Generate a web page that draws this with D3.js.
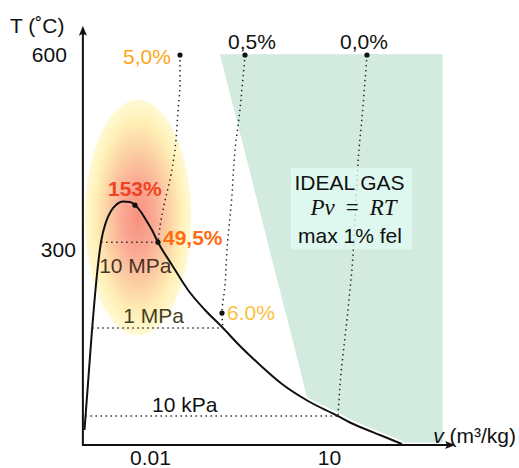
<!DOCTYPE html>
<html>
<head>
<meta charset="utf-8">
<script src="https://cdn.jsdelivr.net/npm/d3@7"></script>
<style>
  body { margin: 0; background: #fff; }
  #chart svg { display: block; font-family: "Liberation Sans", Arial, sans-serif; font-size: 21px; }
</style>
</head>
<body>
<div id="chart"></div>
<script>
// T-v diagram of water, error of the ideal gas law

// saturation dome (v in m3/kg, T in C), liquid side up, then vapour side down
const domeV = [0.000798, 0.000846, 0.00095, 0.001067, 0.001197, 0.001344, 0.00151, 0.001831, 0.00222, 0.002692,
  0.003528, 0.004622, 0.005605, 0.007066, 0.008568, 0.0108, 0.0136, 0.02337, 0.04333, 0.08352,
  0.1673, 0.3224, 0.6974, 1.63, 4.445, 14.15, 22.48, 40.11, 71.5, 167.2];
const domeT = [23.1, 53.8, 115.4, 176.9, 230.8, 276.9, 312.3, 343.1, 360, 369.2,
  374.6, 373.8, 369.2, 358.5, 346.2, 330.8, 312, 276.9, 238.5, 207.7,
  180, 152.3, 123.1, 93.8, 67.7, 44.6, 34.6, 24.6, 15.4, 1.5];

// isobars across the dome
const isobarLabels = ['10 MPa', '1 MPa', '10 kPa'];
const isobarT = [312, 180, 44.6];
const isobarVf = [0.00152, 0.00108, 0.00083];
const isobarVg = [0.0136, 0.167, 14.15];

// lines of equal error
const err5V = [0.0318, 0.0318, 0.0295, 0.0262, 0.0216, 0.0185, 0.0153, 0.0136];
const err5T = [600, 557, 515, 454, 408, 382, 346, 312];
const err05V = [0.391, 0.31, 0.266, 0.237, 0.195, 0.181, 0.161, 0.167];
const err05T = [600, 503, 454, 385, 300, 246, 203, 180];
const err0V = [43.3, 35.7, 31.8, 27.3, 24.3, 20.8, 15.3, 14.15];
const err0T = [600, 503, 454, 346, 272, 208, 92, 44.6];

// points with their error
const pointLabels = ['5,0%', '0,5%', '0,0%', '153%', '49,5%', '6.0%'];
const pointV = [0.0318, 0.391, 43.3, 0.0056, 0.0136, 0.161];
const pointT = [600, 600, 600, 369, 312, 203];

// ideal gas region and its note
const idealV = [0.149, 800, 800, 150, 71.5, 40.1, 22.48, 14.15, 4.445];
const idealT = [601, 601, 4, 4, 15.4, 24.6, 34.6, 44.6, 67.7];
const boxV = [2.3, 246];
const boxT = [301, 426];

// hot spot around the critical point
const spotV = 0.0063, spotT = 350, spotDecades = 0.89, spotDT = 181;

const tickT = [300, 600];
const tickV = [0.01, 10];
const vAxis = 0.00075, vArrow = 1300, tArrow = 645;

const width = 519, height = 468;

const x = d3.scaleLog().domain([0.01, 10]).range([150, 329]);
const y = d3.scaleLinear().domain([0, 600]).range([445, 55]);

const zip = (vs, ts) => vs.map((v, i) => [v, ts[i]]);
const line = d3.line().x(d => x(d[0])).y(d => y(d[1]));
const alongV = d3.line().x(d => x(d[0])).y(d => y(d[1])).curve(d3.curveMonotoneX);
const alongT = d3.line().x(d => x(d[0])).y(d => y(d[1])).curve(d3.curveMonotoneY);

const svg = d3.select('#chart').append('svg')
  .attr('width', width)
  .attr('height', height);

// gradient for the hot spot
const defs = svg.append('defs');
const grad = defs.append('radialGradient').attr('id', 'spot');
[[0, '#f8907f', 1], [0.3, '#faa994', 1], [0.58, '#fcd0a4', 1], [0.82, '#fff0b6', 1], [1, '#fff8cc', 0.85]]
  .forEach(s => grad.append('stop').attr('offset', s[0]).attr('stop-color', s[1]).attr('stop-opacity', s[2]));

// ideal gas region
svg.append('path')
  .attr('d', line(zip(idealV, idealT)) + 'Z')
  .attr('fill', '#d3eadf');

// hot spot
const spotX = x(spotV);
const spotRx = x(spotV * Math.pow(10, spotDecades)) - spotX;
svg.append('ellipse')
  .attr('cx', spotX)
  .attr('cy', y(spotT))
  .attr('rx', spotRx)
  .attr('ry', y(spotT - spotDT) - y(spotT))
  .attr('fill', 'url(#spot)');

// saturation dome, white halo where it runs along the green
const dome = zip(domeV, domeT);
svg.append('path')
  .attr('d', alongV(dome.filter(d => d[0] >= 1.6)))
  .attr('fill', 'none')
  .attr('stroke', '#fff')
  .attr('stroke-width', 6);
svg.append('path')
  .attr('d', alongV(dome))
  .attr('fill', 'none')
  .attr('stroke', '#111')
  .attr('stroke-width', 2);

// isobars
const dotted = g => g.attr('fill', 'none').attr('stroke', '#222')
  .attr('stroke-width', 1.5).attr('stroke-dasharray', '1.4 3.6');
isobarT.forEach((t, i) => {
  svg.append('path')
    .attr('d', line([[isobarVf[i], t], [isobarVg[i], t]]))
    .call(dotted);
});

// error lines
[zip(err5V, err5T), zip(err05V, err05T), zip(err0V, err0T)].forEach(pts => {
  svg.append('path').attr('d', alongT(pts)).call(dotted);
});

// note box
const bx0 = x(boxV[0]), bx1 = x(boxV[1]);
const by0 = y(boxT[1]), by1 = y(boxT[0]);
svg.append('rect')
  .attr('x', bx0).attr('y', by0)
  .attr('width', bx1 - bx0).attr('height', by1 - by0)
  .attr('fill', '#e2fbf4')
  .attr('fill-opacity', 0.78);
const bcx = (bx0 + bx1) / 2;
svg.append('text').attr('x', bcx - 2).attr('y', by0 + 22)
  .attr('text-anchor', 'middle').attr('fill', '#111').text('IDEAL GAS');
const eq = svg.append('text').attr('x', bcx + 2).attr('y', by0 + 47)
  .attr('text-anchor', 'middle').attr('fill', '#111')
  .attr('font-size', 23)
  .attr('font-family', '"Liberation Serif", "DejaVu Serif", serif');
eq.append('tspan').attr('font-style', 'italic').text('Pv');
eq.append('tspan').attr('dx', 11).text('=');
eq.append('tspan').attr('dx', 11).attr('font-style', 'italic').text('RT');
svg.append('text').attr('x', bcx - 1.5).attr('y', by0 + 74.5)
  .attr('text-anchor', 'middle').attr('fill', '#111').text('max 1% fel');

// isobar labels
const isobarStyle = [
  { dx: -2, dy: 31, fill: '#4a3427' },
  { dx: 31, dy: -5.5, fill: '#463d26' },
  { dx: 66.5, dy: -4.5, fill: '#111' }
];
isobarLabels.forEach((name, i) => {
  const s = isobarStyle[i];
  svg.append('text')
    .attr('x', x(isobarVf[i]) + s.dx)
    .attr('y', y(isobarT[i]) + s.dy)
    .attr('fill', s.fill)
    .text(name);
});

// points and their labels
const pointStyle = [
  { dx: -9, dy: 9, anchor: 'end', fill: '#ffa514', weight: 'normal' },
  { dx: -17, dy: -6, anchor: 'start', fill: '#111', weight: 'normal' },
  { dx: -27, dy: -6, anchor: 'start', fill: '#111', weight: 'normal' },
  { dx: -27, dy: -9.5, anchor: 'start', fill: '#ee4422', weight: 'bold' },
  { dx: 5, dy: 3, anchor: 'start', fill: '#ff6c12', weight: 'bold' },
  { dx: 5, dy: 7, anchor: 'start', fill: '#fdbe3c', weight: 'normal' }
];
pointLabels.forEach((lab, i) => {
  const px = x(pointV[i]), py = y(pointT[i]);
  const s = pointStyle[i];
  svg.append('circle').attr('cx', px).attr('cy', py).attr('r', 2.6).attr('fill', '#111');
  svg.append('text')
    .attr('x', px + s.dx)
    .attr('y', py + s.dy)
    .attr('text-anchor', s.anchor)
    .attr('font-weight', s.weight)
    .attr('fill', s.fill)
    .text(lab);
});

// axes
const ax = x(vAxis), ay = y(0);
svg.append('g')
  .attr('transform', `translate(${ax},0)`)
  .call(d3.axisLeft(y).tickValues(tickT).tickSize(0).tickPadding(16))
  .call(g => g.select('.domain').remove())
  .call(g => g.selectAll('text')
    .attr('x', d => (d === 300 ? -7 : -16))
    .attr('fill', '#111')
    .attr('font-size', 21)
    .attr('font-family', '"Liberation Sans", Arial, sans-serif'));

svg.append('g')
  .attr('transform', `translate(0,${ay})`)
  .call(d3.axisBottom(x).tickValues(tickV).tickFormat(d => String(d)).tickSize(0).tickPadding(5))
  .call(g => g.select('.domain').remove())
  .call(g => g.selectAll('text')
    .attr('fill', '#111')
    .attr('font-size', 21)
    .attr('font-family', '"Liberation Sans", Arial, sans-serif'));

const topY = y(tArrow), rightX = x(vArrow);
svg.append('path')
  .attr('d', `M${ax},${ay + 1}V${topY + 6}M${ax - 1},${ay}H${rightX - 6}`)
  .attr('fill', 'none')
  .attr('stroke', '#111')
  .attr('stroke-width', 2);
svg.append('path')
  .attr('d', `M${ax},${topY}l-4,10l4,-2l4,2Z M${rightX},${ay}l-10,-4l2,4l-2,4Z`)
  .attr('fill', '#111');

// axis titles
svg.append('text').attr('x', 10).attr('y', 33).attr('fill', '#111').text('T (˚C)');
const vt = svg.append('text').attr('x', rightX - 22).attr('y', ay - 2).attr('fill', '#111');
vt.append('tspan').attr('font-style', 'italic').text('v');
vt.append('tspan').text(' (m³/kg)');
</script>
</body>
</html>
